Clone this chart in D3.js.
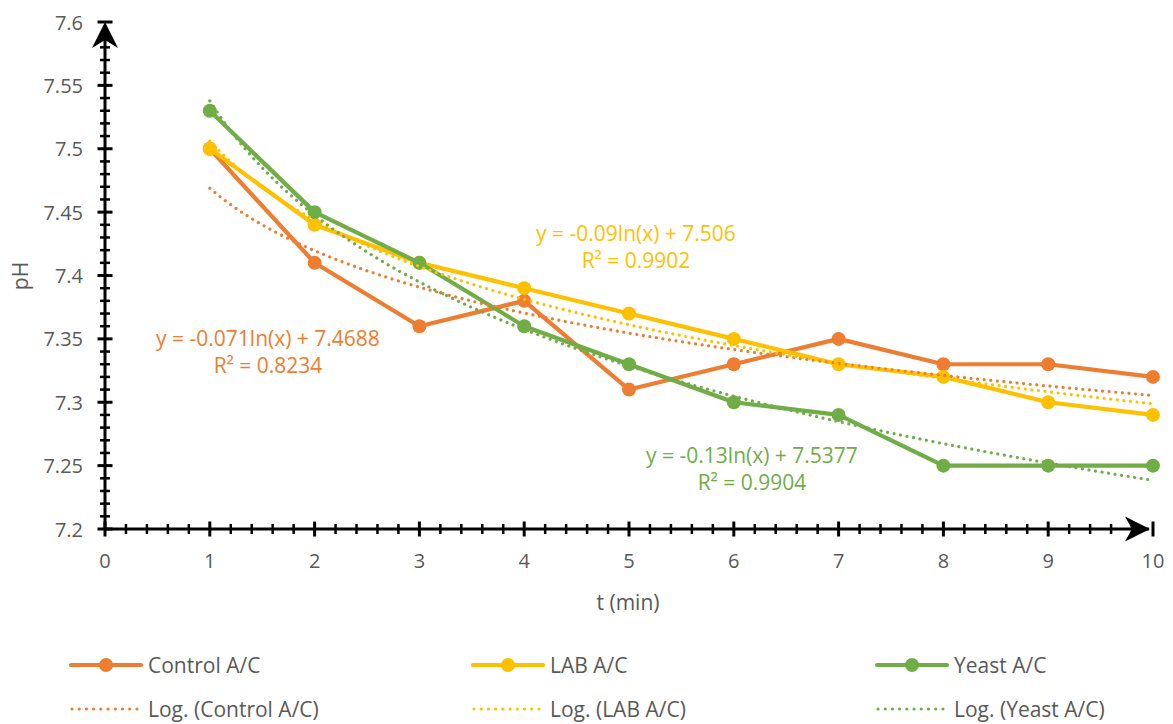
<!DOCTYPE html>
<html>
<head>
<meta charset="utf-8">
<script src="https://cdn.jsdelivr.net/npm/d3@7"></script>
<style>
  html, body { margin: 0; padding: 0; background: #ffffff; }
  svg { display: block; font-family: "Open Sans", sans-serif; }
</style>
</head>
<body>
<svg id="chart" width="1173" height="724"></svg>
<script>
// pH readings over time for three treatments
const times = [1, 2, 3, 4, 5, 6, 7, 8, 9, 10];
const controlPH = [7.50, 7.41, 7.36, 7.38, 7.31, 7.33, 7.35, 7.33, 7.33, 7.32];
const labPH     = [7.50, 7.44, 7.41, 7.39, 7.37, 7.35, 7.33, 7.32, 7.30, 7.29];
const yeastPH   = [7.53, 7.45, 7.41, 7.36, 7.33, 7.30, 7.29, 7.25, 7.25, 7.25];

// logarithmic fits: y = a ln(x) + b
const seriesNames = ["Control A/C", "LAB A/C", "Yeast A/C"];
const fitA  = [-0.071, -0.09, -0.13];
const fitB  = [7.4688, 7.506, 7.5377];
const fitR2 = ["0.8234", "0.9902", "0.9904"];
const fitLabels = ["y = -0.071ln(x) + 7.4688", "y = -0.09ln(x) + 7.506", "y = -0.13ln(x) + 7.5377"];

const xTicks = [0, 1, 2, 3, 4, 5, 6, 7, 8, 9, 10];
const yTicks = [7.2, 7.25, 7.3, 7.35, 7.4, 7.45, 7.5, 7.55, 7.6];

const colors = ["#ED7D31", "#FFC000", "#70AD47"];
const textGray = "#595959";

const svg = d3.select("#chart");
const x = d3.scaleLinear().domain([0, 10]).range([105, 1153]);
const y = d3.scaleLinear().domain([7.2, 7.6]).range([529, 22]);

const series = [controlPH, labPH, yeastPH].map((vals, i) => ({
  name: seriesNames[i], color: colors[i],
  points: times.map((t, j) => ({ t, v: vals[j] }))
}));

// --- axes ---
const axisG = svg.append("g");

// minor ticks (crossing the axis line)
const xMinor = d3.range(0, 50).map(i => i / 5).filter(v => Math.abs(v - Math.round(v)) > 1e-6);
const yMinor = d3.range(0, 40).map(i => 7.2 + i / 100).filter(v => yTicks.every(t => Math.abs(t - v) > 1e-6));

axisG.selectAll(".xminor").data(xMinor).join("line")
  .attr("x1", d => x(d)).attr("x2", d => x(d))
  .attr("y1", y(7.2) - 5).attr("y2", y(7.2) + 5)
  .attr("stroke", "#000").attr("stroke-width", 2.5);
axisG.selectAll(".xmajor").data(xTicks).join("line")
  .attr("x1", d => x(d)).attr("x2", d => x(d))
  .attr("y1", y(7.2) - 7.5).attr("y2", y(7.2) + 7.5)
  .attr("stroke", "#000").attr("stroke-width", 3);
axisG.selectAll(".yminor").data(yMinor).join("line")
  .attr("y1", d => y(d)).attr("y2", d => y(d))
  .attr("x1", x(0) - 5).attr("x2", x(0) + 5)
  .attr("stroke", "#000").attr("stroke-width", 2.5);
axisG.selectAll(".ymajor").data(yTicks).join("line")
  .attr("y1", d => y(d)).attr("y2", d => y(d))
  .attr("x1", x(0) - 7.5).attr("x2", x(0) + 7.5)
  .attr("stroke", "#000").attr("stroke-width", 3);

// axis lines
axisG.append("line").attr("x1", x(0)).attr("x2", x(10) - 4).attr("y1", y(7.2)).attr("y2", y(7.2))
  .attr("stroke", "#000").attr("stroke-width", 3);
axisG.append("line").attr("x1", x(0)).attr("x2", x(0)).attr("y1", y(7.2)).attr("y2", y(7.6) + 4)
  .attr("stroke", "#000").attr("stroke-width", 3);

// stealth arrowheads
const ax = x(10) - 3, ay = y(7.2);
axisG.append("path")
  .attr("d", `M${ax},${ay} L${ax - 25},${ay - 12.5} L${ax - 18},${ay} L${ax - 25},${ay + 12.5} Z`)
  .attr("fill", "#000");
const bx = x(0), by = y(7.6);
axisG.append("path")
  .attr("d", `M${bx},${by} L${bx - 13},${by + 26} L${bx},${by + 18} L${bx + 13},${by + 26} Z`)
  .attr("fill", "#000");

// tick labels
axisG.selectAll(".xlab").data(xTicks).join("text")
  .attr("x", d => x(d)).attr("y", 560)
  .attr("text-anchor", "middle").attr("dominant-baseline", "central")
  .attr("font-size", 20).attr("fill", textGray)
  .text(d => d);
axisG.selectAll(".ylab").data(yTicks).join("text")
  .attr("x", 83).attr("y", d => y(d))
  .attr("text-anchor", "end").attr("dominant-baseline", "central")
  .attr("font-size", 20).attr("fill", textGray)
  .text(d => d3.format("")(+d.toFixed(2)));

// axis titles
svg.append("text").attr("x", 628).attr("y", 602)
  .attr("text-anchor", "middle").attr("dominant-baseline", "central")
  .attr("font-size", 21).attr("fill", textGray).text("t (min)");
svg.append("text").attr("transform", "translate(20,276) rotate(-90)")
  .attr("text-anchor", "middle").attr("dominant-baseline", "central")
  .attr("font-size", 21).attr("fill", textGray).text("pH");

// --- series lines and markers ---
const line = d3.line().x(d => x(d.t)).y(d => y(d.v));
series.forEach(s => {
  const g = svg.append("g");
  g.append("path").datum(s.points).attr("d", line)
    .attr("fill", "none").attr("stroke", s.color).attr("stroke-width", 4.2)
    .attr("stroke-linejoin", "round").attr("stroke-linecap", "round");
  g.selectAll("circle").data(s.points).join("circle")
    .attr("cx", d => x(d.t)).attr("cy", d => y(d.v)).attr("r", 7)
    .attr("fill", s.color);
});

// --- logarithmic trend lines ---
const fitX = d3.range(1, 10.0001, 0.05);
const fitLine = d3.line().x(d => x(d[0])).y(d => y(d[1])).curve(d3.curveMonotoneX);
fitA.forEach((a, i) => {
  svg.append("path")
    .datum(fitX.map(t => [t, a * Math.log(t) + fitB[i]]))
    .attr("d", fitLine)
    .attr("fill", "none").attr("stroke", colors[i]).attr("stroke-width", 3.2)
    .attr("stroke-linecap", "round").attr("stroke-dasharray", "0.01 6.6");
});

// --- fit equations ---
const labelPos = [[268, 338], [636, 233], [752, 455]];
fitLabels.forEach((txt, i) => {
  const g = svg.append("g").attr("fill", colors[i]).attr("font-size", 21)
    .attr("text-anchor", "middle");
  g.append("text").attr("x", labelPos[i][0]).attr("y", labelPos[i][1])
    .attr("dominant-baseline", "central").text(txt);
  g.append("text").attr("x", labelPos[i][0]).attr("y", labelPos[i][1] + 27)
    .attr("dominant-baseline", "central").text("R\u00B2 = " + fitR2[i]);
});

// --- legend ---
const legendX = [71, 473, 877];
const rowY = [665, 709];
const legend = svg.append("g");
seriesNames.forEach((name, i) => {
  const lx = legendX[i];
  const g = legend.append("g");
  g.append("line").attr("x1", lx).attr("x2", lx + 70).attr("y1", rowY[0]).attr("y2", rowY[0])
    .attr("stroke", colors[i]).attr("stroke-width", 4.2).attr("stroke-linecap", "round");
  g.append("circle").attr("cx", lx + 35).attr("cy", rowY[0]).attr("r", 7).attr("fill", colors[i]);
  g.append("text").attr("x", lx + 77).attr("y", rowY[0]).attr("dominant-baseline", "central")
    .attr("font-size", 21).attr("fill", textGray).text(name);
  g.append("line").attr("x1", lx + 1).attr("x2", lx + 66).attr("y1", rowY[1]).attr("y2", rowY[1])
    .attr("stroke", colors[i]).attr("stroke-width", 3.2).attr("stroke-linecap", "round")
    .attr("stroke-dasharray", "0.01 7.2");
  g.append("text").attr("x", lx + 77).attr("y", rowY[1]).attr("dominant-baseline", "central")
    .attr("font-size", 21).attr("fill", textGray).text("Log. (" + name + ")");
});
</script>
</body>
</html>
